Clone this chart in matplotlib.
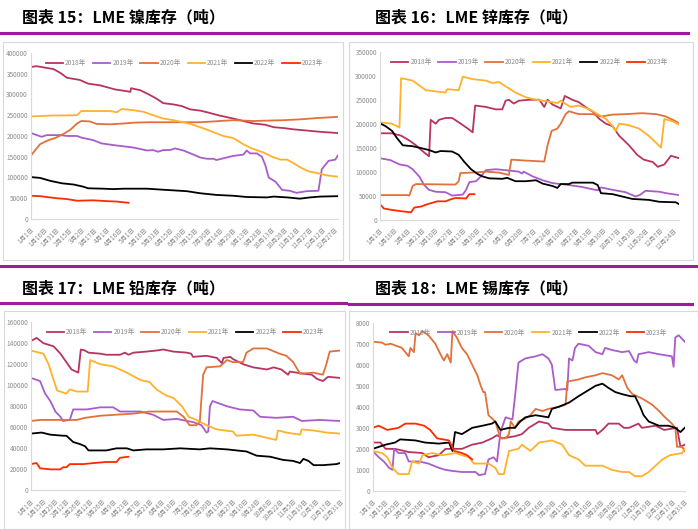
import matplotlib.pyplot as plt
import numpy as np

plt.rcParams['font.family'] = ['Noto Sans CJK SC', 'DejaVu Sans']

years = ['2018年', '2019年', '2020年', '2021年', '2022年', '2023年']
colors = ['#B8345F', '#A95DC8', '#E2703A', '#FFB12C', '#000000', '#FF2A00']

# x ticks (day of year index -> label)
ni_ticks = ['1月1日', '1月16日', '1月31日', '2月15日', '3月2日', '3月17日', '4月1日', '4月16日',
            '5月1日', '5月16日', '5月31日', '6月15日', '6月30日', '7月15日', '7月30日', '8月14日',
            '8月29日', '9月13日', '9月28日', '10月13日', '10月28日', '11月12日', '11月27日',
            '12月12日', '12月27日']
zn_ticks = ['1月1日', '1月18日', '2月4日', '2月21日', '3月10日', '3月27日', '4月13日', '4月30日',
            '5月17日', '6月3日', '6月20日', '7月7日', '7月24日', '8月10日', '8月27日', '9月13日',
            '9月30日', '10月17日', '11月3日', '11月20日', '12月7日', '12月24日']
pb_ticks = ['1月1日', '1月15日', '1月29日', '2月12日', '2月26日', '3月12日', '3月26日', '4月9日',
            '4月23日', '5月7日', '5月21日', '6月4日', '6月18日', '7月2日', '7月16日', '7月30日',
            '8月13日', '8月27日', '9月10日', '9月24日', '10月8日', '10月22日', '11月5日',
            '11月19日', '12月3日', '12月17日', '12月31日']
sn_ticks = pb_ticks

# ---- nickel (day, tonnes)
ni_2018 = [(0, 366000), (7, 368000), (27, 361000), (35, 352000), (43, 340000), (58, 335000),
           (68, 326000), (82, 322000), (100, 312000), (116, 307000), (118, 306000), (119, 315000),
           (130, 310000), (140, 300000), (149, 290000), (157, 279000), (169, 276000), (179, 272000),
           (189, 264000), (201, 261000), (211, 256000), (224, 249000), (240, 242000), (252, 236000),
           (264, 230000), (278, 227000), (288, 221000), (300, 219000), (311, 216000), (327, 213000),
           (343, 210000), (364, 207000)]
ni_2019 = [(0, 208000), (3, 205000), (13, 198000), (19, 202000), (35, 202000), (43, 200000),
           (55, 200000), (60, 196000), (74, 190000), (84, 182000), (98, 178000), (110, 175000),
           (122, 172000), (138, 165000), (145, 166000), (151, 162000), (157, 166000), (165, 166000),
           (171, 170000), (181, 165000), (193, 155000), (201, 148000), (209, 145000), (217, 145000),
           (220, 142000), (232, 148000), (240, 152000), (252, 155000), (256, 165000), (260, 158000),
           (268, 158000), (274, 150000), (278, 130000), (282, 100000), (290, 90000), (298, 70000),
           (307, 68000), (315, 63000), (327, 67000), (341, 68000), (345, 120000), (353, 140000),
           (361, 143000), (364, 153000)]
ni_2020 = [(0, 152000), (5, 165000), (11, 180000), (21, 190000), (29, 195000), (39, 205000),
           (47, 215000), (55, 230000), (60, 236000), (70, 235000), (78, 229000), (94, 228000),
           (110, 230000), (122, 232000), (140, 233000), (201, 233000), (217, 235000), (240, 238000),
           (264, 236000), (300, 238000), (319, 240000), (339, 243000), (364, 246000)]
ni_2021 = [(0, 247000), (23, 249000), (55, 250000), (60, 260000), (94, 260000), (102, 257000),
           (108, 265000), (122, 262000), (134, 258000), (145, 250000), (157, 242000), (169, 238000),
           (183, 232000), (191, 228000), (205, 218000), (213, 212000), (228, 200000), (240, 195000),
           (252, 180000), (262, 170000), (276, 160000), (286, 150000), (296, 143000), (304, 143000),
           (311, 135000), (319, 125000), (329, 115000), (341, 110000), (351, 105000), (364, 102000)]
ni_2022 = [(0, 101000), (11, 99000), (23, 92000), (37, 86000), (51, 83000), (62, 78000),
           (68, 74000), (86, 73000), (98, 72000), (110, 73000), (138, 73000), (153, 71000),
           (185, 67000), (201, 62000), (220, 58000), (240, 56000), (256, 53000), (280, 52000),
           (288, 54000), (304, 52000), (319, 49000), (331, 52000), (343, 54000), (364, 55000)]
ni_2023 = [(0, 56000), (11, 55000), (31, 50000), (43, 48000), (55, 44000), (74, 45000),
           (90, 43000), (102, 42000), (116, 39000)]

# ---- zinc
zn_2018 = [(0, 180000), (15, 180000), (26, 175000), (36, 165000), (44, 155000), (54, 140000),
           (60, 132000), (62, 208000), (68, 200000), (72, 208000), (80, 212000), (88, 212000),
           (96, 203000), (107, 190000), (113, 182000), (116, 238000), (129, 235000), (141, 230000),
           (149, 230000), (153, 248000), (157, 250000), (163, 242000), (169, 248000), (182, 250000),
           (194, 250000), (200, 235000), (204, 250000), (210, 240000), (220, 232000), (225, 258000),
           (234, 250000), (242, 245000), (250, 235000), (259, 225000), (267, 210000), (275, 200000),
           (283, 195000), (291, 175000), (303, 155000), (313, 135000), (321, 125000), (332, 120000),
           (338, 110000), (346, 115000), (354, 133000), (364, 128000)]
zn_2019 = [(0, 128000), (13, 124000), (24, 115000), (34, 112000), (40, 105000), (48, 90000),
           (54, 72000), (60, 62000), (68, 58000), (80, 57000), (88, 50000), (101, 52000),
           (105, 62000), (109, 78000), (117, 80000), (123, 90000), (129, 103000), (141, 105000),
           (153, 103000), (169, 100000), (173, 96000), (175, 100000), (186, 90000), (198, 82000),
           (210, 76000), (230, 72000), (246, 68000), (259, 63000), (265, 61000), (269, 67000),
           (283, 62000), (299, 57000), (311, 48000), (317, 52000), (323, 60000), (340, 58000),
           (348, 55000), (364, 51000)]
zn_2020 = [(0, 51000), (34, 51000), (36, 50000), (40, 70000), (44, 74000), (92, 73000),
           (96, 80000), (98, 97000), (113, 98000), (129, 100000), (145, 98000), (157, 93000),
           (160, 125000), (178, 123000), (200, 121000), (204, 155000), (209, 185000), (216, 190000),
           (220, 200000), (226, 220000), (230, 226000), (242, 220000), (259, 220000), (269, 215000),
           (283, 219000), (299, 220000), (319, 222000), (336, 220000), (348, 215000), (360, 205000),
           (364, 200000)]
zn_2021 = [(0, 203000), (15, 200000), (24, 192000), (26, 295000), (40, 290000), (48, 280000),
           (56, 270000), (80, 265000), (82, 272000), (96, 270000), (101, 298000), (113, 293000),
           (129, 290000), (137, 285000), (145, 287000), (153, 278000), (165, 265000), (178, 255000),
           (190, 250000), (206, 246000), (216, 243000), (220, 248000), (232, 235000), (242, 238000),
           (255, 230000), (265, 220000), (275, 210000), (283, 195000), (287, 185000), (291, 200000),
           (303, 197000), (315, 190000), (327, 175000), (336, 160000), (342, 150000), (346, 210000),
           (356, 205000), (364, 198000)]
zn_2022 = [(0, 201000), (7, 195000), (15, 185000), (21, 170000), (28, 155000), (40, 153000),
           (48, 150000), (60, 145000), (68, 140000), (74, 143000), (88, 142000), (96, 135000),
           (103, 120000), (111, 105000), (119, 95000), (125, 90000), (133, 86000), (149, 85000),
           (155, 87000), (165, 80000), (178, 80000), (190, 82000), (198, 75000), (210, 70000),
           (216, 66000), (220, 74000), (230, 74000), (234, 77000), (259, 77000), (265, 72000),
           (269, 55000), (283, 53000), (295, 48000), (307, 43000), (327, 41000), (340, 37000),
           (360, 36000), (364, 32000)]
zn_2023 = [(0, 33000), (5, 23000), (15, 20000), (28, 17000), (38, 15000), (42, 25000),
           (50, 27000), (58, 32000), (64, 35000), (70, 38000), (80, 38000), (86, 42000),
           (92, 45000), (105, 44000), (109, 53000), (115, 53000)]

# ---- lead
pb_2018 = [(0, 142000), (7, 145000), (15, 140000), (27, 137000), (35, 130000), (42, 122000),
           (48, 115000), (56, 112000), (59, 134000), (64, 133000), (68, 131000), (82, 130000),
           (89, 129000), (105, 129000), (111, 131000), (115, 129000), (121, 131000), (136, 132000),
           (148, 133000), (156, 134000), (168, 132000), (184, 131000), (189, 130000), (191, 127000),
           (207, 128000), (219, 126000), (225, 121000), (227, 126000), (235, 127000), (238, 125000),
           (250, 120000), (262, 117000), (278, 115000), (286, 117000), (295, 115000), (303, 110000),
           (305, 113000), (321, 111000), (331, 110000), (337, 106000), (344, 104000), (350, 108000),
           (364, 107000)]
pb_2019 = [(0, 107000), (11, 104000), (17, 92000), (23, 85000), (29, 75000), (35, 70000),
           (38, 66000), (46, 67000), (50, 77000), (66, 77000), (82, 79000), (97, 79000),
           (105, 75000), (129, 75000), (144, 72000), (156, 67000), (172, 68000), (184, 66000),
           (191, 65000), (201, 62000), (207, 55000), (209, 56000), (211, 80000), (214, 85000),
           (231, 80000), (246, 77000), (262, 76000), (270, 70000), (289, 69000), (309, 70000),
           (319, 66000), (340, 67000), (364, 66000)]
pb_2020 = [(0, 66000), (11, 67000), (54, 67000), (64, 69000), (82, 71000), (101, 72000),
           (121, 73000), (140, 75000), (172, 75000), (180, 70000), (187, 62000), (195, 62000),
           (199, 65000), (203, 110000), (207, 117000), (223, 118000), (231, 124000), (238, 122000),
           (250, 122000), (254, 131000), (262, 135000), (278, 135000), (293, 130000), (301, 128000),
           (309, 122000), (317, 111000), (333, 112000), (344, 110000), (348, 120000), (352, 132000),
           (364, 133000)]
pb_2021 = [(0, 133000), (15, 130000), (21, 120000), (25, 110000), (31, 95000), (42, 92000),
           (46, 96000), (54, 94000), (67, 94000), (70, 124000), (82, 120000), (97, 118000),
           (113, 112000), (129, 105000), (140, 103000), (148, 96000), (160, 90000), (168, 88000),
           (178, 80000), (186, 70000), (195, 67000), (207, 62000), (219, 58000), (238, 56000),
           (242, 52000), (262, 53000), (278, 50000), (289, 48000), (291, 57000), (301, 55000),
           (317, 53000), (319, 58000), (333, 57000), (348, 55000), (364, 54000)]
pb_2022 = [(0, 54000), (13, 55000), (23, 53000), (38, 52000), (42, 52000), (50, 46000),
           (58, 44000), (64, 42000), (68, 38000), (89, 38000), (101, 40000), (113, 40000),
           (121, 38000), (136, 39000), (156, 39000), (176, 40000), (199, 39000), (211, 40000),
           (231, 39000), (254, 37000), (266, 33000), (282, 32000), (297, 29000), (309, 28000),
           (317, 26000), (321, 30000), (327, 28000), (333, 24000), (344, 24000), (360, 25000),
           (364, 26000)]
pb_2023 = [(0, 25000), (7, 26000), (11, 21000), (23, 20000), (35, 20000), (38, 22000),
           (42, 22000), (46, 25000), (62, 25000), (74, 26000), (89, 27000), (101, 27000),
           (105, 31000), (115, 32000)]

# ---- tin
sn_2018 = [(0, 2300), (9, 2300), (15, 2000), (26, 2000), (42, 1850), (58, 1800), (65, 1600),
           (77, 1700), (85, 2000), (104, 2000), (116, 2200), (128, 2300), (139, 2500), (145, 2650),
           (151, 2500), (166, 2600), (174, 2700), (182, 3000), (194, 3300), (205, 3200), (209, 3000),
           (225, 2900), (244, 2900), (260, 2900), (262, 2700), (268, 2900), (275, 3200), (287, 3200),
           (293, 3000), (299, 3000), (310, 3200), (314, 3000), (330, 3100), (340, 2900), (355, 3000),
           (359, 2100), (364, 2200)]
sn_2019 = [(0, 1900), (7, 1600), (13, 1400), (19, 1100), (23, 1000), (25, 2000), (30, 1800),
           (38, 1800), (42, 1400), (54, 1400), (65, 1300), (77, 1100), (85, 1000), (93, 950),
           (104, 900), (120, 900), (124, 750), (131, 800), (135, 1500), (141, 1600), (145, 1400),
           (149, 2800), (155, 3500), (163, 3400), (166, 4500), (170, 6100), (178, 6300), (190, 6400),
           (198, 6500), (205, 6300), (209, 6000), (213, 4800), (225, 4850), (227, 4800), (229, 6300),
           (233, 6200), (236, 6800), (240, 7000), (252, 6900), (260, 6600), (268, 6500), (271, 6800),
           (279, 6700), (291, 6600), (299, 6650), (305, 6200), (308, 6100), (310, 6500), (322, 6600),
           (334, 6500), (349, 6400), (351, 5900), (353, 7300), (357, 7400), (364, 7100)]
sn_2020 = [(0, 7100), (11, 7050), (15, 6950), (21, 7000), (34, 6800), (38, 6600), (42, 6400),
           (44, 6800), (48, 6600), (50, 7500), (54, 7400), (58, 7600), (65, 7400), (73, 7000),
           (79, 6500), (83, 6200), (87, 6500), (91, 6100), (93, 7600), (98, 7300), (104, 6800),
           (110, 6500), (116, 6000), (122, 5500), (126, 5000), (129, 4700), (131, 4700), (135, 3600),
           (143, 3300), (149, 2500), (155, 2500), (159, 2700), (161, 3300), (166, 3000), (170, 3300),
           (176, 3400), (180, 3500), (184, 3600), (190, 3900), (198, 3800), (205, 3900), (217, 4000),
           (225, 4100), (227, 5200), (240, 5300), (248, 5400), (260, 5500), (268, 5600), (279, 5500),
           (287, 5300), (291, 5500), (297, 4900), (303, 4600), (314, 4400), (326, 4100), (334, 3800),
           (341, 3500), (349, 3200), (353, 3000), (355, 2100), (361, 2100), (364, 1900)]
sn_2021 = [(0, 1900), (11, 1800), (17, 1600), (23, 1100), (30, 800), (42, 800), (46, 1400),
           (54, 1300), (58, 1700), (69, 1800), (81, 1700), (96, 1800), (112, 1600), (118, 1300),
           (135, 1300), (143, 1100), (147, 800), (153, 800), (159, 1900), (170, 2000), (174, 2200),
           (184, 1900), (194, 2300), (209, 2400), (221, 2200), (229, 1700), (240, 1500), (248, 1200),
           (268, 1200), (279, 1000), (291, 900), (299, 900), (306, 700), (314, 700), (322, 900),
           (330, 1200), (338, 1500), (347, 1700), (361, 1800), (364, 2000)]
sn_2022 = [(0, 2000), (15, 2200), (26, 2300), (32, 2450), (50, 2400), (61, 2300), (77, 2250),
           (89, 2300), (93, 1900), (96, 2800), (104, 2700), (116, 3000), (128, 3100), (139, 3200),
           (143, 3300), (149, 2900), (159, 3000), (166, 3000), (172, 3300), (178, 3500), (190, 3600),
           (205, 3500), (209, 3900), (217, 4000), (229, 4200), (240, 4500), (252, 4800), (260, 5000),
           (268, 5100), (275, 4900), (283, 4700), (291, 4600), (301, 4500), (306, 4500), (312, 4000),
           (316, 3600), (322, 3300), (334, 3100), (345, 3100), (353, 3000), (359, 2800), (364, 3000)]
sn_2023 = [(0, 3000), (7, 3100), (17, 2900), (30, 3000), (38, 3200), (50, 3200), (60, 3100),
           (67, 2900), (75, 2500), (89, 2400), (95, 1900), (104, 1800), (110, 1700), (116, 1500)]

panels = [
    ('图表 15：LME 镍库存（吨）', [ni_2018, ni_2019, ni_2020, ni_2021, ni_2022, ni_2023],
     ni_ticks, 15, 400000, 50000, [0.044, 0.586, 0.440, 0.314]),
    ('图表 16：LME 锌库存（吨）', [zn_2018, zn_2019, zn_2020, zn_2021, zn_2022, zn_2023],
     zn_ticks, 17, 350000, 50000, [0.544, 0.585, 0.429, 0.317]),
    ('图表 17：LME 铅库存（吨）', [pb_2018, pb_2019, pb_2020, pb_2021, pb_2022, pb_2023],
     pb_ticks, 14, 160000, 20000, [0.044, 0.073, 0.443, 0.318]),
    ('图表 18：LME 锡库存（吨）', [sn_2018, sn_2019, sn_2020, sn_2021, sn_2022, sn_2023],
     sn_ticks, 14, 8000, 1000, [0.534, 0.072, 0.447, 0.318]),
]

W, H = 698, 529
fig = plt.figure(figsize=(W / 100, H / 100), dpi=100)
purple = '#9C1D9C'


def fx(px):
    return px / W


def fy(py):
    return 1 - py / H


# titles, purple rules and gray boxes (pixel layout)
title_pos = [(22, 17), (375, 17), (22, 288), (375, 288)]
rules = [(0, 346, 33), (349, 688, 33), (0, 698, 266), (0, 346, 303), (349, 692, 304)]
boxes = [(3, 42, 343, 260), (349, 42, 693, 260), (4, 311, 345, 529), (349, 311, 698, 529)]

for (x0, x1, y) in rules:
    fig.add_artist(plt.Line2D([fx(x0), fx(x1)], [fy(y), fy(y)], color=purple, lw=2.2))
for (x0, y0, x1, y1) in boxes:
    fig.add_artist(plt.Rectangle((fx(x0), fy(y1)), fx(x1 - x0), (y1 - y0) / H,
                                 fill=False, ec='#D9D9D9', lw=0.8))

for i, (title, series, ticks, step, ymax, ystep, pos) in enumerate(panels):
    tx, ty = title_pos[i]
    fig.text(fx(tx), fy(ty), title, fontsize=11.5, fontweight='heavy', va='center', ha='left')

    ax = fig.add_axes(pos)
    for s, c, lab in zip(series, colors, years):
        d = np.array(s)
        ax.plot(d[:, 0], d[:, 1], color=c, lw=1.3, label=lab)
    ax.set_xlim(0, 364)
    ax.set_ylim(0, ymax)
    ax.set_yticks(np.arange(0, ymax + 1, ystep))
    ax.set_yticklabels([str(int(v)) for v in np.arange(0, ymax + 1, ystep)])
    ax.set_xticks(np.arange(len(ticks)) * step)
    ax.set_xticklabels(ticks, rotation=45, ha='right', rotation_mode='anchor')
    ax.tick_params(axis='both', labelsize=4.6, colors='#8C8C8C', length=0, pad=2)
    ax.tick_params(axis='x', pad=5)
    for sp in ['top', 'right']:
        ax.spines[sp].set_visible(False)
    for sp in ['left', 'bottom']:
        ax.spines[sp].set_color('#D9D9D9')
        ax.spines[sp].set_linewidth(0.8)
    leg = ax.legend(loc='upper center', bbox_to_anchor=(0.5, 1.0), ncol=6, frameon=False,
                    fontsize=4.8, handlelength=2.6, columnspacing=1.0, handletextpad=0.3)
    for t in leg.get_texts():
        t.set_color('#8C8C8C')

fig.savefig('out.png', dpi=100)
